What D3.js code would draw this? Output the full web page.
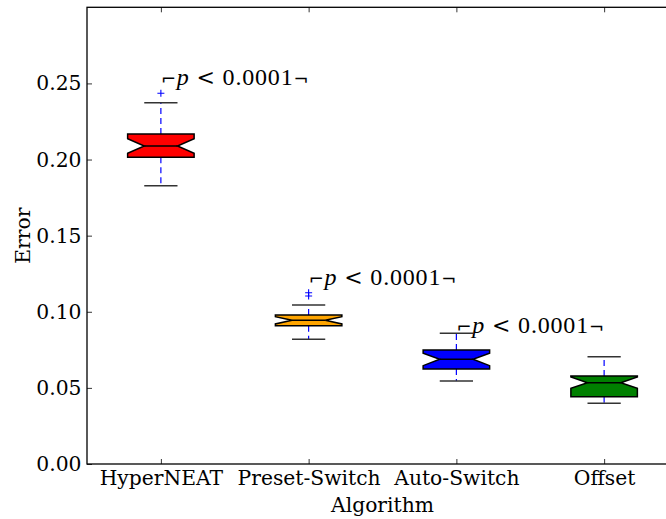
<!DOCTYPE html>
<html>
<head>
<meta charset="utf-8">
<script src="https://cdn.jsdelivr.net/npm/d3@7"></script>
<style>
  html, body { margin: 0; padding: 0; background: #fff; }
  svg { display: block; }
</style>
</head>
<body>
<svg id="chart" width="666" height="519"></svg>
<script>
// ---- data ----
const categories = ["HyperNEAT", "Preset-Switch", "Auto-Switch", "Offset"];
const q1        = [0.2015, 0.0908, 0.0624, 0.0442];
const medians   = [0.2089, 0.0944, 0.0688, 0.0534];
const q3        = [0.2168, 0.0979, 0.0749, 0.0578];
const notchLo   = [0.2041, 0.0920, 0.0646, 0.0497];
const notchHi   = [0.2137, 0.0968, 0.0727, 0.0571];
const whiskerLo = [0.1828, 0.0819, 0.0545, 0.0399];
const whiskerHi = [0.2373, 0.1044, 0.0859, 0.0705];
const fliers    = [[0.2435], [0.1104, 0.1125], [], []];
const boxColors = ["#ff0000", "#ffa500", "#0000ff", "#008000"];
const yTicks    = [0, 0.05, 0.10, 0.15, 0.20, 0.25];
const annPairs  = [[0, 1], [1, 2], [2, 3]];
const annY      = [0.249, 0.1176, 0.0862];
const annValue  = "0.0001";

// ---- layout ----
const svg = d3.select("#chart");
const mLeft = 87, mRight = 678, mTop = 7.3, mBottom = 464;
const x = d3.scaleLinear().domain([0.5, 4.5]).range([mLeft, mRight]);
const y = d3.scaleLinear().domain([0, 0.3]).range([mBottom, mTop]);
const boxW = 0.45;
const font = "'DejaVu Serif', serif";

// axes
const gx = svg.append("g").attr("transform", `translate(0,${mBottom})`)
  .call(d3.axisBottom(x).tickValues([1, 2, 3, 4]).tickFormat((d) => categories[d - 1])
    .tickSizeInner(-5).tickSizeOuter(0).tickPadding(7));
const gxTop = svg.append("g").attr("transform", `translate(0,${mTop})`)
  .call(d3.axisTop(x).tickValues([1, 2, 3, 4]).tickFormat("")
    .tickSizeInner(-5).tickSizeOuter(0));
const gy = svg.append("g").attr("transform", `translate(${mLeft},0)`)
  .call(d3.axisLeft(y).tickValues(yTicks).tickFormat(d3.format(".2f"))
    .tickSizeInner(-5).tickSizeOuter(0).tickPadding(5.5));
const gyR = svg.append("g").attr("transform", `translate(${mRight},0)`)
  .call(d3.axisRight(y).tickValues(yTicks).tickFormat("")
    .tickSizeInner(-5).tickSizeOuter(0));
[gx, gxTop, gy, gyR].forEach(g => {
  g.select(".domain").remove();
  g.selectAll(".tick line").attr("stroke", "#000").attr("stroke-width", 0.8);
  g.selectAll(".tick text").attr("font-family", font).attr("font-size", 20.3).attr("fill", "#000");
});

// frame
svg.append("rect").attr("x", mLeft).attr("y", mTop)
  .attr("width", mRight - mLeft).attr("height", mBottom - mTop)
  .attr("fill", "none").attr("stroke", "#000").attr("stroke-width", 1.3);

// axis titles
svg.append("text").attr("x", (mLeft + mRight) / 2).attr("y", 511.5)
  .attr("text-anchor", "middle").attr("font-family", font).attr("font-size", 20.3)
  .text("Algorithm");
svg.append("text").attr("transform", `translate(30,${(mTop + mBottom) / 2}) rotate(-90)`)
  .attr("text-anchor", "middle").attr("font-family", font).attr("font-size", 20.3)
  .text("Error");

// boxes
const plot = svg.append("g");
categories.forEach((c, i) => {
  const cx = x(i + 1);
  const hw = (x(1 + boxW / 2) - x(1));
  const L = cx - hw, R = cx + hw, wl = cx - hw / 2, wr = cx + hw / 2;
  const g = plot.append("g");
  // whiskers
  g.append("line").attr("x1", cx).attr("x2", cx).attr("y1", y(q3[i])).attr("y2", y(whiskerHi[i]))
    .attr("stroke", "#0000ff").attr("stroke-width", 1.2).attr("stroke-dasharray", "6,4");
  g.append("line").attr("x1", cx).attr("x2", cx).attr("y1", y(q1[i])).attr("y2", y(whiskerLo[i]))
    .attr("stroke", "#0000ff").attr("stroke-width", 1.2).attr("stroke-dasharray", "6,4");
  // caps
  [whiskerHi[i], whiskerLo[i]].forEach(v => {
    g.append("line").attr("x1", wl).attr("x2", wr).attr("y1", y(v)).attr("y2", y(v))
      .attr("stroke", "#333").attr("stroke-width", 1.4);
  });
  // notched box
  const pts = [
    [L, y(q1[i])], [L, y(notchLo[i])], [wl, y(medians[i])], [L, y(notchHi[i])], [L, y(q3[i])],
    [R, y(q3[i])], [R, y(notchHi[i])], [wr, y(medians[i])], [R, y(notchLo[i])], [R, y(q1[i])]
  ];
  g.append("path").attr("d", d3.line()(pts) + "Z")
    .attr("fill", boxColors[i]).attr("stroke", "#000").attr("stroke-width", 1.5)
    .attr("stroke-linejoin", "miter");
  // median
  g.append("line").attr("x1", wl).attr("x2", wr).attr("y1", y(medians[i])).attr("y2", y(medians[i]))
    .attr("stroke", "#000").attr("stroke-width", 1.5);
  // fliers
  fliers[i].forEach(v => {
    const fy = y(v);
    g.append("path").attr("d", `M${cx - 3.5},${fy}H${cx + 3.5}M${cx},${fy - 3.5}V${fy + 3.5}`)
      .attr("stroke", "#0000ff").attr("stroke-width", 1.1);
  });
});

// significance annotations
annPairs.forEach((p, k) => {
  const x0 = x(p[0] + 1), x1 = x(p[1] + 1);
  const t = svg.append("text").attr("x", x0).attr("y", y(annY[k]))
    .attr("font-family", "'Liberation Serif', 'DejaVu Serif', serif").attr("font-size", 24)
    .attr("textLength", x1 - x0).attr("lengthAdjust", "spacing");
  t.append("tspan").attr("font-family", "'DejaVu Sans', sans-serif").attr("font-size", 18).text("\u2310");
  t.append("tspan").attr("font-style", "italic").text("p");
  t.append("tspan").text(" ");
  t.append("tspan").attr("font-family", "'DejaVu Serif', serif").attr("font-size", 22).text("<");
  t.append("tspan").text(" " + annValue);
  t.append("tspan").attr("font-family", "'DejaVu Sans', sans-serif").attr("font-size", 18).text("\u00ac");
});
</script>
</body>
</html>
